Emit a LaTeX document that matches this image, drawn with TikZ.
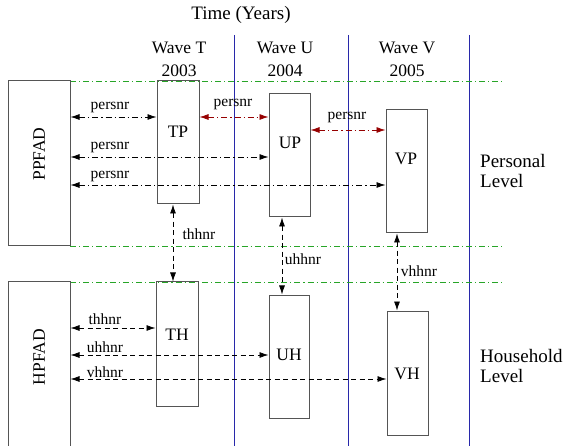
\documentclass[tikz,border=0pt]{standalone}
\usepackage{fontspec}
\setmainfont{Liberation Serif}
\usetikzlibrary{arrows.meta,fit}
\definecolor{wavered}{RGB}{150,0,0}
\definecolor{levelgreen}{RGB}{40,165,40}
\definecolor{waveblue}{RGB}{40,40,170}
\definecolor{boxgray}{RGB}{85,85,85}
\tikzset{
  box/.style={draw=boxgray,line width=1pt,inner sep=0pt},
  lbl/.style={font=\fontsize{15.5}{18}\selectfont,inner sep=0pt},
  big/.style={font=\fontsize{19}{19.5}\selectfont,align=left,inner sep=0pt},
  mid/.style={font=\fontsize{17.5}{23}\selectfont,align=center,inner sep=0pt},
  pid/.style={line width=0.8pt,dash pattern=on 6pt off 3pt on 1.2pt off 3pt,<->},
  hid/.style={line width=0.8pt,dash pattern=on 5pt off 3.5pt,<->},
  level/.style={levelgreen,line width=0.8pt,dash pattern=on 6pt off 3pt on 1.2pt off 3pt},
  >={Latex[length=9pt,width=6pt]}
}
\begin{document}
\begin{tikzpicture}[x=1pt,y=-1pt]
\useasboundingbox (0,0) rectangle (570,446);
% waves
\node[big] (time) at (241,15) {Time (Years)};
\foreach \x/\w/\yr in {179/T/2003,285/U/2004,407/V/2005}
  \node[mid] (wave\w) at (\x,59) {Wave \w\\\yr};
\foreach \x in {234,348,469}
  \draw[waveblue,line width=1pt] (\x,35) -- (\x,446);
% levels
\foreach \y in {81,246,282}
  \draw[level] (70,\y) -- (502,\y);
\node[big,anchor=west] (perslevel) at (480,171) {Personal\\Level};
\node[big,anchor=west] (hhlevel) at (480,366) {Household\\Level};
% files
\node[box,fit={(8,81)(70,246)}] (ppfad) {};
\node[box,fit={(8,282)(70,452)}] (hpfad) {};
\node[mid,rotate=90] (ppfad-t) at (39,154) {PPFAD};
\node[mid,rotate=90] (hpfad-t) at (39,357) {HPFAD};
\foreach \n/\s/\xa/\ya/\xb/\yb/\tx/\ty in {tp/TP/157/81/199/204/178/132,
    up/UP/269/94/310/217/290/143, vp/VP/386/110/427/233/406/159,
    th/TH/156/282/198/406/177/335, uh/UH/269/295/309/418/289/355,
    vh/VH/387/311/428/435/407/374}{
  \node[box,fit={(\xa,\ya)(\xb,\yb)}] (\n) {};
  \node[mid] (\n-t) at (\tx,\ty) {\s};
}
% person ids
\foreach \from/\to/\y/\lx/\ly/\c in {ppfad/tp/117/110/108/black,
    tp/up/117/233/105/wavered, up/vp/130/347/118/wavered,
    ppfad/up/157/110/148/black, ppfad/vp/185/110/176/black}{
  \draw[pid,\c] (\from.east |- 0,\y) -- (\to.west |- 0,\y);
  \node[lbl] at (\lx,\ly) {persnr};
}
% household ids
\foreach \to/\y/\ly/\s in {th/328/319/thhnr,uh/355/347/uhhnr,vh/379/372/vhhnr}{
  \draw[hid] (hpfad.east |- 0,\y) -- (\to.west |- 0,\y);
  \node[lbl] at (105,\ly) {\s};
}
\foreach \from/\to/\x/\lx/\ly/\s in {tp/th/173/199/234/thhnr,
    up/uh/282/303/259/uhhnr, vp/vh/397/419/271/vhhnr}{
  \draw[hid] (\from.south -| \x,0) -- (\to.north -| \x,0);
  \node[lbl] at (\lx,\ly) {\s};
}
\end{tikzpicture}
\end{document}
